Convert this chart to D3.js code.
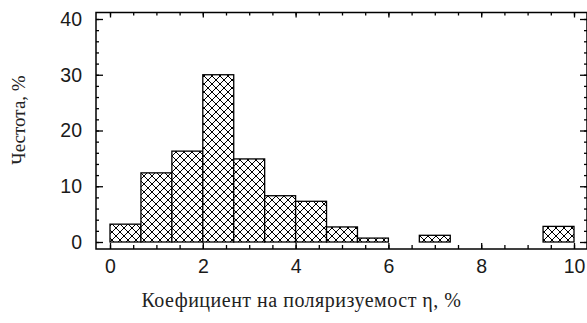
<!DOCTYPE html>
<html>
<head>
<meta charset="utf-8">
<script src="https://cdn.jsdelivr.net/npm/d3@7"></script>
<style>
  body { margin: 0; background: #fff; }
  svg { display: block; }
  .tick text { font-family: "Liberation Sans", Arial, sans-serif; font-size: 19.5px; fill: #1a1a1a; }
  .title { font-family: "Liberation Serif", "Times New Roman", serif; font-size: 20px; letter-spacing: 0.5px; fill: #222; }
  .title.y { font-size: 19px; letter-spacing: 0; }
</style>
</head>
<body>
<svg id="chart"></svg>
<script>
// histogram bins (width 2/3) and frequency in %
const binEdges = [0, 2/3, 4/3, 2, 8/3, 10/3, 4, 14/3, 16/3, 6, 20/3, 22/3, 8, 26/3, 28/3, 10];
const freqs = [3.2, 12.4, 16.3, 30, 14.9, 8.3, 7.3, 2.7, 0.7, 0, 1.2, 0, 0, 0, 2.8];
const xTickLabels = [0, 2, 4, 6, 8, 10];
const yTickLabels = [0, 10, 20, 30, 40];
const xTitle = 'Коефициент на поляризуемост η, %';
const yTitle = 'Честота, %';

const W = 587, H = 323;
const frame = { left: 96, top: 12.5, right: 587, bottom: 249 };

const svg = d3.select('#chart').attr('width', W).attr('height', H);

const x = d3.scaleLinear().domain([0, 10]).range([110, 574]);
const y = d3.scaleLinear().domain([0, 40]).range([242, 19]);

// cross hatch
const pat = svg.append('defs').append('pattern')
    .attr('id', 'hatch')
    .attr('patternUnits', 'userSpaceOnUse')
    .attr('width', 8).attr('height', 8);
pat.append('rect').attr('width', 8).attr('height', 8).attr('fill', '#fff');
pat.append('path')
    .attr('d', 'M-1,-1 L9,9 M9,-1 L-1,9')
    .attr('stroke', '#000').attr('stroke-width', 1);

const bins = freqs.map((v, i) => ({ x0: binEdges[i], x1: binEdges[i + 1], v: v }));

svg.append('g').selectAll('rect')
    .data(bins)
    .join('rect')
    .attr('x', d => x(d.x0))
    .attr('width', d => x(d.x1) - x(d.x0))
    .attr('y', d => y(d.v))
    .attr('height', d => y(0) - y(d.v))
    .attr('fill', 'url(#hatch)')
    .attr('stroke', '#000')
    .attr('stroke-width', 1.3);

// tick marks on all four sides (pointing inwards)
const xMinor = d3.range(0, 10.01, 0.5);
const yMinor = d3.range(0, 40.01, 2);

function ticks(axisFn, scale, vals, size, tx, ty) {
    const g = svg.append('g')
        .attr('transform', 'translate(' + tx + ',' + ty + ')')
        .call(axisFn(scale).tickValues(vals).tickSize(size).tickFormat(''));
    g.select('.domain').remove();
    g.selectAll('line').attr('stroke', '#000').attr('stroke-width', 1.3);
}
ticks(d3.axisTop, x, xMinor, 4, 0, frame.bottom);
ticks(d3.axisTop, x, xTickLabels, 6, 0, frame.bottom);
ticks(d3.axisBottom, x, xMinor, 3, 0, frame.top);
ticks(d3.axisBottom, x, xTickLabels, 5, 0, frame.top);
ticks(d3.axisRight, y, yMinor, 3, frame.left, 0);
ticks(d3.axisRight, y, yTickLabels, 7, frame.left, 0);
ticks(d3.axisLeft, y, yMinor, 3, frame.right, 0);
ticks(d3.axisLeft, y, yTickLabels, 7, frame.right, 0);

// frame
svg.append('rect')
    .attr('x', frame.left).attr('y', frame.top)
    .attr('width', frame.right - frame.left)
    .attr('height', frame.bottom - frame.top)
    .attr('fill', 'none')
    .attr('stroke', '#000')
    .attr('stroke-width', 1.5);

// tick labels
const xl = svg.append('g')
    .attr('transform', 'translate(0,' + frame.bottom + ')')
    .call(d3.axisBottom(x).tickValues(xTickLabels).tickSize(0).tickPadding(10));
xl.select('.domain').remove();

const yl = svg.append('g')
    .attr('transform', 'translate(' + frame.left + ',0)')
    .call(d3.axisLeft(y).tickValues(yTickLabels).tickSize(0).tickPadding(14));
yl.select('.domain').remove();

// titles
svg.append('text')
    .attr('class', 'title')
    .attr('x', 301.5).attr('y', 306.5)
    .attr('text-anchor', 'middle')
    .text(xTitle);

svg.append('text')
    .attr('class', 'title y')
    .attr('transform', 'translate(25,120) rotate(-90)')
    .attr('text-anchor', 'middle')
    .text(yTitle);
</script>
</body>
</html>
